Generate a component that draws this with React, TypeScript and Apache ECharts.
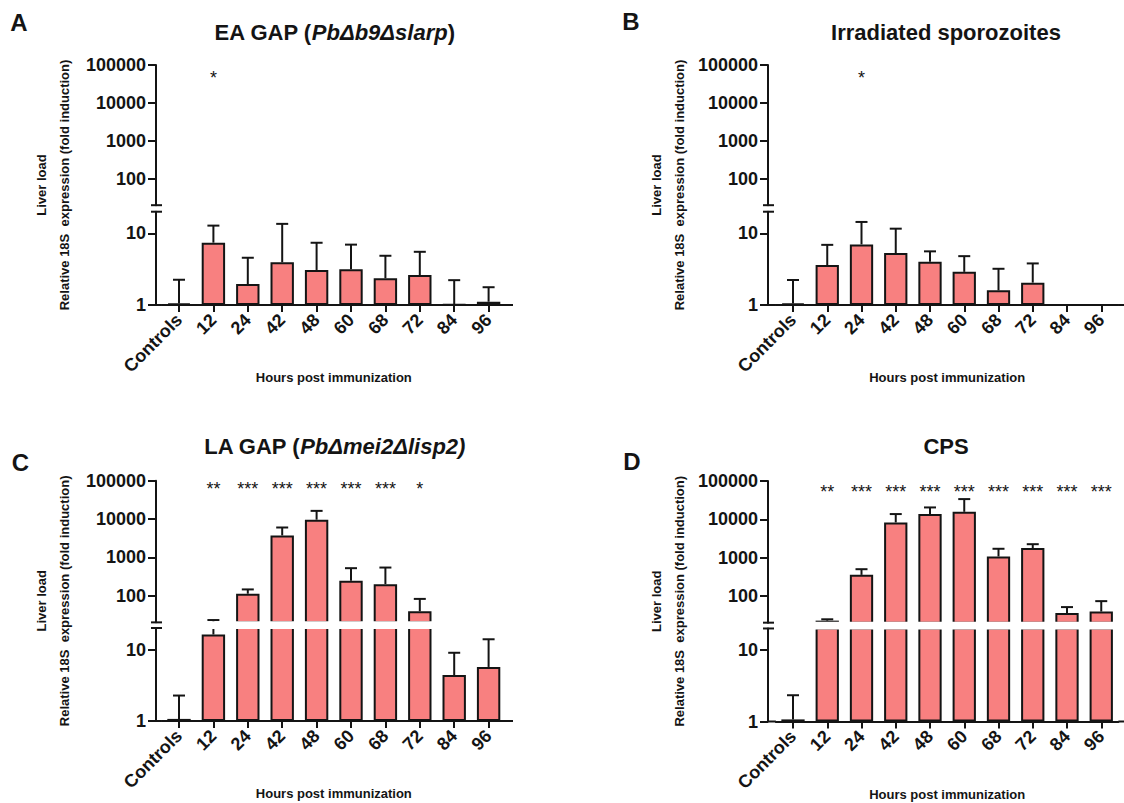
import React, { useEffect, useRef } from 'react';
import * as echarts from 'echarts';

// ---------------- DATA ----------------
const categories = ['Controls', '12', '24', '42', '48', '60', '68', '72', '84', '96'];

// Panel A: EA GAP (PbΔb9Δslarp) — mean and upper SD (fold induction)
const eaGapMean = [1.05, 7.4, 1.96, 3.94, 3.08, 3.15, 2.36, 2.62, 1.02, 1.11];
const eaGapSD = [1.2, 5.4, 2.6, 9.6, 4.3, 3.8, 2.5, 2.9, 1.2, 0.66];
const eaGapStars = ['', '*', '', '', '', '', '', '', '', ''];

// Panel B: Irradiated sporozoites
const irrMean = [1.05, 3.6, 7.0, 5.3, 4.0, 2.9, 1.6, 2.05, null, null];
const irrSD = [1.18, 3.3, 7.4, 6.3, 1.6, 1.9, 1.6, 1.75, null, null];
const irrStars = ['', '', '*', '', '', '', '', '', '', ''];

// Panel C: LA GAP (PbΔmei2Δlisp2)
const laGapMean = [1.07, 16.2, 112, 3720, 9600, 243, 199, 39, 4.4, 5.7];
const laGapSD = [1.2, 6.8, 33, 2280, 6700, 277, 341, 43, 4.6, 8.2];
const laGapStars = ['', '**', '***', '***', '***', '***', '***', '*', '', ''];

// Panel D: CPS
const cpsMean = [1.07, 22.6, 354, 8280, 13700, 15700, 1070, 1770, 36, 39];
const cpsSD = [1.26, 1.9, 144, 5420, 6700, 18000, 630, 470, 15, 34];
const cpsStars = ['', '**', '***', '***', '***', '***', '***', '***', '***', '***'];

const upperTicks = [100, 1000, 10000, 100000];
const lowerTicks = [1, 10];

const xTitle = 'Hours post immunization';
const yTitle = 'Liver load\nRelative 18S  expression (fold induction)';

// ---------------- STYLE / LAYOUT ----------------
const FONT = '"Liberation Sans", Arial, Helvetica, sans-serif';
const INK = '#141414';
const BAR = '#F88080';
const BREAK = 20;
const Y_MAX = 100000;

const panels = [
  {
    letter: 'A', title: '{b|EA GAP (}{i|PbΔb9Δslarp}{b|)}', mean: eaGapMean, sd: eaGapSD, stars: eaGapStars,
    letterX: 19, letterY: 22, titleY: 32, yTitleX: 52.5,
    yAxisX: 156, firstCenter: 179, band: 34.4, axisEnd: 513,
    yTop: 65, decUp: 37.9, yBottom: 305, decLow: 71.7, starLevel: 45000,
  },
  {
    letter: 'B', title: '{b|Irradiated sporozoites}', mean: irrMean, sd: irrSD, stars: irrStars,
    letterX: 631, letterY: 21, titleY: 32, yTitleX: 668,
    yAxisX: 768, firstCenter: 793, band: 34.25, axisEnd: 1124,
    yTop: 65, decUp: 37.9, yBottom: 305, decLow: 71.7, starLevel: 45000,
  },
  {
    letter: 'C', title: '{b|LA GAP (}{i|PbΔmei2Δlisp2)}', mean: laGapMean, sd: laGapSD, stars: laGapStars,
    letterX: 20.5, letterY: 462, titleY: 446, yTitleX: 52.5,
    yAxisX: 156, firstCenter: 179, band: 34.4, axisEnd: 513,
    yTop: 480.7, decUp: 38.3, yBottom: 721, decLow: 71.5, starLevel: 60000,
  },
  {
    letter: 'D', title: '{b|CPS}', mean: cpsMean, sd: cpsSD, stars: cpsStars,
    letterX: 632, letterY: 461, titleY: 446, yTitleX: 668,
    yAxisX: 768, firstCenter: 793, band: 34.25, axisEnd: 1124,
    yTop: 481, decUp: 38.3, yBottom: 721.5, decLow: 71.5, starLevel: 52000,
  },
];

function buildOption() {
  const grid: any[] = [];
  const xAxis: any[] = [];
  const yAxis: any[] = [];
  const series: any[] = [];
  const elements: any[] = [];

  const lineStyle = { color: INK, width: 2 };
  const tickLabel = { fontSize: 18, fontWeight: 'bold', color: INK, fontFamily: FONT };
  const fmt = (v: number) => {
    const r = Math.round(v);
    return upperTicks.includes(r) || lowerTicks.includes(r) ? String(r) : '';
  };

  panels.forEach((p, k) => {
    const gLeft = p.firstCenter - p.band / 2;
    const gWidth = p.band * categories.length;
    const gRight = gLeft + gWidth;
    const upH = p.decUp * (Math.log10(Y_MAX) - Math.log10(BREAK));
    const upTop = p.yTop;
    const upBottom = upTop + upH;
    const loH = p.decLow * Math.log10(BREAK);
    const loBottom = p.yBottom;
    const loTop = loBottom - loH;
    const offset = gLeft - p.yAxisX;

    const up = k * 2;
    const lo = k * 2 + 1;
    grid.push({ left: gLeft, top: upTop, width: gWidth, height: upH, containLabel: false, outerBoundsMode: 'none' });
    grid.push({ left: gLeft, top: loTop, width: gWidth, height: loH, containLabel: false, outerBoundsMode: 'none' });

    xAxis.push({ type: 'category', gridIndex: up, data: categories, show: false });
    xAxis.push({
      type: 'category', gridIndex: lo, data: categories,
      axisLine: { show: true, lineStyle },
      axisTick: { show: true, alignWithLabel: true, length: 7, lineStyle },
      axisLabel: { ...tickLabel, rotate: 45, margin: 12, interval: 0 },
      name: xTitle, nameLocation: 'middle', nameGap: 66, nameMoveOverlap: false,
      nameTextStyle: { fontSize: 13, fontWeight: 'bold', color: INK, fontFamily: FONT },
    });

    yAxis.push({
      type: 'log', logBase: 10, gridIndex: up, min: BREAK, max: Y_MAX + 0.5, offset,
      axisLine: { show: true, lineStyle },
      axisTick: { show: true, length: 8, lineStyle, customValues: upperTicks },
      axisLabel: { ...tickLabel, margin: 10, customValues: upperTicks, formatter: fmt },
      splitLine: { show: false },
    });
    yAxis.push({
      type: 'log', logBase: 10, gridIndex: lo, min: 1, max: BREAK, offset,
      axisLine: { show: true, lineStyle },
      axisTick: { show: true, length: 8, lineStyle, customValues: lowerTicks },
      axisLabel: { ...tickLabel, margin: 10, customValues: lowerTicks, formatter: fmt },
      splitLine: { show: false },
    });

    const errData = p.mean
      .map((m, i) => (m == null || p.sd[i] == null ? null : [i, m, (m as number) + (p.sd[i] as number)]))
      .filter((d) => d !== null);

    [up, lo].forEach((gi) => {
      const isUpper = gi === up;
      series.push({
        type: 'bar', xAxisIndex: gi, yAxisIndex: gi, data: p.mean, barWidth: '68%', clip: true, silent: true,
        itemStyle: { color: BAR, borderColor: INK, borderWidth: 2 }, z: 2,
      });
      series.push({
        type: 'custom', xAxisIndex: gi, yAxisIndex: gi, data: errData, silent: true, z: 3,
        renderItem: (params: any, api: any) => {
          const i = api.value(0);
          const m = api.value(1);
          const t = api.value(2);
          const lowV = isUpper ? Math.max(m, BREAK) : m;
          const highV = isUpper ? t : Math.min(t, BREAK);
          if (!(highV > lowV)) return null;
          const p0 = api.coord([i, lowV]);
          const p1 = api.coord([i, highV]);
          const st = { stroke: INK, lineWidth: 2 };
          const children: any[] = [
            { type: 'line', shape: { x1: p0[0], y1: p0[1], x2: p1[0], y2: p1[1] }, style: st },
          ];
          const capOn = isUpper ? t > BREAK : t <= BREAK;
          if (capOn) {
            children.push({ type: 'line', shape: { x1: p1[0] - 6, y1: p1[1], x2: p1[0] + 6, y2: p1[1] }, style: st });
          }
          return { type: 'group', children };
        },
      });
    });

    series.push({
      type: 'custom', xAxisIndex: up, yAxisIndex: up, silent: true, z: 4,
      data: p.stars.map((s, i) => [i, p.starLevel]),
      renderItem: (params: any, api: any) => {
        const s = p.stars[params.dataIndex];
        if (!s) return null;
        const pt = api.coord([api.value(0), api.value(1)]);
        return {
          type: 'text', x: pt[0], y: pt[1],
          style: { text: s, fill: INK, fontSize: 18, fontFamily: FONT, align: 'center', verticalAlign: 'middle' },
        };
      },
    });

    // Decorations: letter, title, y title, axis break
    elements.push({
      type: 'text', x: p.letterX, y: p.letterY, z: 60,
      style: { text: p.letter, fill: INK, fontSize: 24, fontWeight: 'bold', fontFamily: FONT, align: 'center', verticalAlign: 'middle' },
    });
    const titleFont = { fontSize: 22, fontWeight: 'bold', fontFamily: FONT, fill: INK };
    elements.push({
      type: 'text', x: (p.yAxisX + p.axisEnd) / 2, y: p.titleY, z: 60,
      style: {
        text: p.title, align: 'center', verticalAlign: 'middle', ...titleFont,
        rich: { b: { ...titleFont }, i: { ...titleFont, fontStyle: 'italic' } },
      },
    });
    elements.push({
      type: 'text', x: p.yTitleX, y: (upTop + loBottom) / 2, rotation: Math.PI / 2, z: 60,
      style: {
        text: yTitle, fill: INK, fontSize: 13, fontWeight: 'bold', fontFamily: FONT,
        align: 'center', verticalAlign: 'middle', lineHeight: 23,
      },
    });
    elements.push({
      type: 'rect', z: 50, silent: true,
      shape: { x: gLeft - 2, y: upBottom - 1, width: gWidth + 4, height: loTop - upBottom + 2 },
      style: { fill: '#ffffff' },
    });
    [upBottom, loTop].forEach((yy) => {
      elements.push({
        type: 'line', z: 60, silent: true,
        shape: { x1: p.yAxisX - 5, y1: yy, x2: p.yAxisX + 6, y2: yy },
        style: { stroke: INK, lineWidth: 2 },
      });
    });
    elements.push({
      type: 'line', z: 60, silent: true,
      shape: { x1: p.yAxisX - 1, y1: loBottom, x2: gLeft, y2: loBottom },
      style: { stroke: INK, lineWidth: 2 },
    });
    elements.push({
      type: 'line', z: 60, silent: true,
      shape: { x1: gRight, y1: loBottom, x2: p.axisEnd, y2: loBottom },
      style: { stroke: INK, lineWidth: 2 },
    });
  });

  return {
    animation: false,
    backgroundColor: '#ffffff',
    textStyle: { fontFamily: FONT },
    grid,
    xAxis,
    yAxis,
    series,
    graphic: { elements },
  };
}

export default function App() {
  const ref = useRef<HTMLDivElement>(null);
  useEffect(() => {
    const chart = echarts.init(ref.current as HTMLDivElement, null, { renderer: 'svg' });
    chart.setOption(buildOption() as any);
    return () => chart.dispose();
  }, []);
  return (
    <div
      ref={ref}
      style={{ position: 'absolute', left: 0, top: 0, width: 1124, height: 803, background: '#fff' }}
    />
  );
}
